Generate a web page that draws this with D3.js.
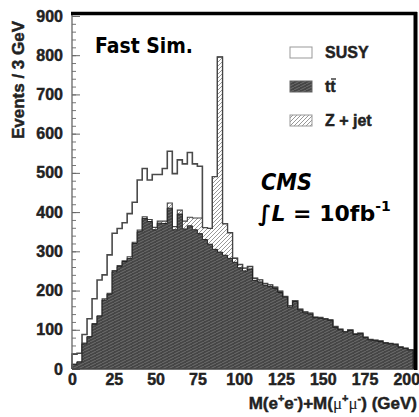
<!DOCTYPE html>
<html>
<head>
<meta charset="utf-8">
<script src="https://cdn.jsdelivr.net/npm/d3@7"></script>
<style>
  body { margin: 0; background: #fff; }
  svg { display: block; }
</style>
</head>
<body>
<div id="chart"></div>
<script>
// 3 GeV bins from 0 to 204 GeV (stacked: ttbar, then Z+jet, then SUSY on top)
var binWidth = 3;

var ttbar = [12, 18, 64, 82, 114, 135, 176, 191, 248, 261,
             274, 282, 320, 350, 384, 376, 355, 372, 371, 410,
             355, 395, 357, 365, 355, 345, 330, 318, 305, 298,
             290, 282, 272, 258, 250, 255, 226, 222, 214, 210,
             205, 195, 183, 158, 172, 150, 143, 140, 131, 129,
             127, 124, 106, 100, 94, 98, 88, 90, 80, 74,
             72, 70, 66, 64, 62, 55, 52, 48];

var zjet = [0, 0, 2, 0, 2, 0, 3, 2, 3, 3,
            2, 4, 3, 4, 4, 5, 6, 5, 6, 13,
            8, 10, 20, 22, 30, 40, 30, 40, 185, 497,
            80, 65, 10, 8, 7, 6, 5, 5, 4, 4,
            3, 3, 2, 3, 2, 2, 2, 2, 1, 2,
            1, 1, 2, 1, 1, 1, 1, 1, 1, 1,
            1, 1, 1, 1, 1, 1, 1, 1];

var susy = [26, 22, 22, 46, 63, 92, 61, 98, 95, 94,
            97, 110, 102, 128, 123, 101, 135, 119, 134, 132,
            135, 128, 146, 165, 138, 132, 0, 0, 0, 0,
            0, 0, 0, 0, 0, 0, 0, 0, 0, 0,
            0, 0, 0, 0, 0, 0, 0, 0, 0, 0,
            0, 0, 0, 0, 0, 0, 0, 0, 0, 0,
            0, 0, 0, 0, 0, 0, 0, 0];

var xTicks = [0, 25, 50, 75, 100, 125, 150, 175, 200];
var yTicks = [0, 100, 200, 300, 400, 500, 600, 700, 800, 900];
var legendLabels = ["SUSY", "tt", "Z + jet"];

var width = 419, height = 417;
var plotLeft = 72, plotRight = 413, plotTop = 14, plotBottom = 369;

var x = d3.scaleLinear().domain([0, 204]).range([plotLeft, plotRight]);
var y = d3.scaleLinear().domain([0, 905]).range([plotBottom, plotTop]);

var svg = d3.select("#chart").append("svg")
    .attr("width", width)
    .attr("height", height);

var defs = svg.append("defs");

// dark texture for ttbar
var pDark = defs.append("pattern")
    .attr("id", "pDark")
    .attr("patternUnits", "userSpaceOnUse")
    .attr("width", 6).attr("height", 3);
pDark.append("rect").attr("width", 6).attr("height", 3).attr("fill", "#454545");
pDark.append("path").attr("d", "M0,3 L6,0").attr("stroke", "#737373").attr("stroke-width", 0.9);

// light hatch for Z + jet
var pHatch = defs.append("pattern")
    .attr("id", "pHatch")
    .attr("patternUnits", "userSpaceOnUse")
    .attr("width", 4).attr("height", 4);
pHatch.append("rect").attr("width", 4).attr("height", 4).attr("fill", "#fff");
pHatch.append("path").attr("d", "M-1,5 L5,-1 M-1,1 L1,-1 M3,5 L5,3")
    .attr("stroke", "#8c8c8c").attr("stroke-width", 0.9);

var fontAx = "'Liberation Sans', Arial, sans-serif";
var fontComic = "'DejaVu Sans', sans-serif";

// heavy bold look of the blurred original
function boldText(sel, size) {
    sel.attr("font-family", fontAx)
        .attr("font-weight", "bold")
        .attr("font-size", size)
        .attr("fill", "#222")
        .attr("stroke", "#222")
        .attr("stroke-width", 0.45);
}

// axes (drawn under the histograms)
var yAxisMinor = svg.append("g")
    .attr("transform", "translate(" + plotLeft + ",0)")
    .call(d3.axisLeft(y).tickValues(d3.range(0, 901, 20)).tickSize(-4).tickFormat(""));
yAxisMinor.select(".domain").remove();
yAxisMinor.selectAll("line").attr("stroke", "#777");

var yAxis = svg.append("g")
    .attr("transform", "translate(" + plotLeft + ",0)")
    .call(d3.axisLeft(y).tickValues(yTicks).tickSize(-8).tickPadding(9));
yAxis.select(".domain").remove();
yAxis.selectAll("line").attr("stroke", "#666");
boldText(yAxis.selectAll("text"), 16);

var xAxis = svg.append("g")
    .attr("transform", "translate(0," + plotBottom + ")")
    .call(d3.axisBottom(x).tickValues(xTicks).tickSize(-8).tickPadding(5));
xAxis.select(".domain").remove();
xAxis.selectAll("line").attr("stroke", "#666");
boldText(xAxis.selectAll("text"), 16);

// stacked sums
var sumTZ = ttbar.map((v, i) => v + zjet[i]);
var sumAll = sumTZ.map((v, i) => v + susy[i]);

function stepPoints(vals) {
    var pts = [];
    vals.forEach(function(v, i) {
        pts.push([i * binWidth, v]);
        pts.push([(i + 1) * binWidth, v]);
    });
    return pts;
}

var area = d3.area()
    .x(d => x(d[0]))
    .y0(y(0))
    .y1(d => y(d[1]));

var line = d3.line()
    .x(d => x(d[0]))
    .y(d => y(d[1]));

function drawHist(vals, fill, stroke, sw) {
    var pts = stepPoints(vals);
    svg.append("path")
        .attr("d", area(pts))
        .attr("fill", fill);
    var outline = [[0, 0]].concat(pts, [[vals.length * binWidth, 0]]);
    svg.append("path")
        .attr("d", line(outline))
        .attr("fill", "none")
        .attr("stroke", stroke)
        .attr("stroke-width", sw);
}

drawHist(sumAll, "#fff", "#4a4a4a", 1.6);
drawHist(sumTZ, "url(#pHatch)", "#444", 1.1);
drawHist(ttbar, "url(#pDark)", "#222", 1);

// axis lines
svg.append("line")
    .attr("x1", plotLeft).attr("x2", plotLeft)
    .attr("y1", plotTop).attr("y2", plotBottom)
    .attr("stroke", "#666").attr("stroke-width", 1.3);
svg.append("line")
    .attr("x1", plotLeft).attr("x2", plotRight)
    .attr("y1", plotBottom).attr("y2", plotBottom)
    .attr("stroke", "#444").attr("stroke-width", 1.3);

// frame: thick top and right
svg.append("line")
    .attr("x1", plotLeft - 1).attr("x2", plotRight + 4)
    .attr("y1", plotTop - 0.5).attr("y2", plotTop - 0.5)
    .attr("stroke", "#000").attr("stroke-width", 3.5);
svg.append("line")
    .attr("x1", plotRight + 2.5).attr("x2", plotRight + 2.5)
    .attr("y1", plotTop - 2).attr("y2", plotBottom + 1)
    .attr("stroke", "#000").attr("stroke-width", 4);

// axis titles
var yTitle = svg.append("text")
    .attr("transform", "translate(24,80) rotate(-90)")
    .attr("text-anchor", "middle")
    .text("Events / 3 GeV");
boldText(yTitle, 17);

var xt = svg.append("text")
    .attr("x", 417).attr("y", 409)
    .attr("text-anchor", "end");
boldText(xt, 17);
xt.append("tspan").text("M(e");
xt.append("tspan").attr("font-size", 11).attr("dy", -7).text("+");
xt.append("tspan").attr("dy", 7).text("e");
xt.append("tspan").attr("font-size", 11).attr("dy", -7).text("-");
xt.append("tspan").attr("dy", 7).text(")+M(");
xt.append("tspan").attr("font-weight", "normal").attr("stroke-width", 0).attr("font-family", "'Liberation Serif', serif").text("\u03bc");
xt.append("tspan").attr("font-size", 11).attr("dy", -7).text("+");
xt.append("tspan").attr("dy", 7).attr("font-weight", "normal").attr("stroke-width", 0).attr("font-family", "'Liberation Serif', serif").text("\u03bc");
xt.append("tspan").attr("font-size", 11).attr("dy", -7).text("-");
xt.append("tspan").attr("dy", 7).text(") (GeV)");

// legend
var legendY = [47, 81, 115];
var legendFill = ["#fff", "url(#pDark)", "url(#pHatch)"];
var legendStroke = ["#999", "#666", "#999"];
legendLabels.forEach(function(lbl, i) {
    svg.append("rect")
        .attr("x", 290).attr("y", legendY[i])
        .attr("width", 22).attr("height", 11)
        .attr("fill", legendFill[i])
        .attr("stroke", legendStroke[i])
        .attr("stroke-width", 1);
    var t = svg.append("text")
        .attr("x", 325).attr("y", legendY[i] + 11)
        .text(lbl);
    boldText(t, 16);
});
// bar over the second t
svg.append("line")
    .attr("x1", 331).attr("x2", 336)
    .attr("y1", 79).attr("y2", 79)
    .attr("stroke", "#222").attr("stroke-width", 1.3);

// annotations
svg.append("text")
    .attr("x", 95).attr("y", 53)
    .attr("font-family", fontComic)
    .attr("font-weight", "bold")
    .attr("font-size", 22)
    .attr("textLength", 98)
    .attr("lengthAdjust", "spacingAndGlyphs")
    .attr("fill", "#000")
    .text("Fast Sim.");

svg.append("text")
    .attr("x", 261).attr("y", 190)
    .attr("font-family", fontComic)
    .attr("font-weight", "bold")
    .attr("font-style", "italic")
    .attr("font-size", 23)
    .attr("textLength", 51)
    .attr("lengthAdjust", "spacingAndGlyphs")
    .attr("fill", "#000")
    .text("CMS");

var lumi = svg.append("text")
    .attr("x", 258).attr("y", 221)
    .attr("font-family", fontComic)
    .attr("font-weight", "bold")
    .attr("font-size", 22)
    .attr("fill", "#000");
lumi.append("tspan").attr("font-style", "italic").text("\u222bL");
lumi.append("tspan").text(" = 10fb");
lumi.append("tspan").attr("font-size", 14).attr("dy", -10).text("-1");
</script>
</body>
</html>
